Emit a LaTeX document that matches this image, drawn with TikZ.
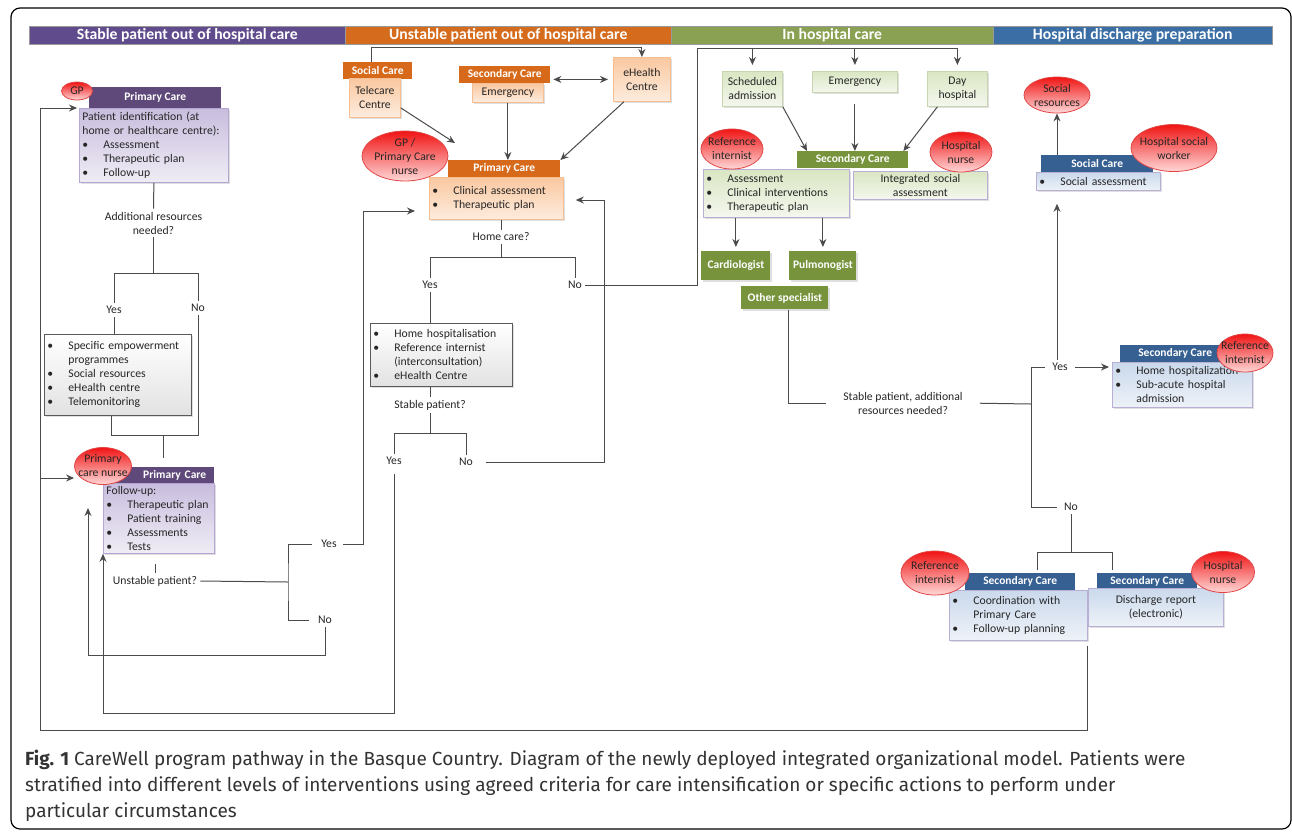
\documentclass[tikz,border=0pt]{standalone}
\usepackage{fontspec}
\setmainfont{Carlito}
\newfontfamily\capfont{Fira Sans}
\usetikzlibrary{arrows.meta,shapes.geometric,shadows}

\definecolor{purpBar}{RGB}{96,76,140}
\definecolor{orgBar}{RGB}{213,107,28}
\definecolor{grnBar}{RGB}{138,160,82}
\definecolor{bluBar}{RGB}{58,110,165}
\definecolor{purpHd}{RGB}{95,73,122}
\definecolor{purpTop}{RGB}{200,189,222}
\definecolor{purpBot}{RGB}{240,237,245}
\definecolor{purpLn}{RGB}{180,165,210}
\definecolor{orgHd}{RGB}{214,106,26}
\definecolor{orgTop}{RGB}{250,200,160}
\definecolor{orgBot}{RGB}{253,236,222}
\definecolor{orgLn}{RGB}{246,190,145}
\definecolor{grnHd}{RGB}{119,147,60}
\definecolor{grnTop}{RGB}{218,230,195}
\definecolor{grnBot}{RGB}{244,247,238}
\definecolor{grnLn}{RGB}{200,214,175}
\definecolor{bluHd}{RGB}{55,96,146}
\definecolor{bluTop}{RGB}{202,217,236}
\definecolor{bluBot}{RGB}{238,242,248}
\definecolor{lavLn}{RGB}{185,175,212}
\definecolor{greyBot}{RGB}{226,226,226}
\definecolor{greyLn}{RGB}{90,90,90}
\definecolor{linec}{RGB}{75,75,75}
\definecolor{txt}{RGB}{38,38,38}
\definecolor{ellTop}{RGB}{240,20,20}
\definecolor{ellBot}{RGB}{255,215,215}
\definecolor{ellLn}{RGB}{225,70,70}

\newcommand\fs{\fontsize{11.7}{14}\selectfont}
\newcommand\fsb{\bfseries\fontsize{11.5}{14}\selectfont}
\newcommand\blt[1]{\makebox[21pt][l]{\textbullet}#1}
\newcommand\bltc[1]{\hspace*{21pt}#1}

\tikzset{
	conn/.style={draw=linec, line width=1pt},
	arr/.style={conn, -{Stealth[length=8pt, width=7pt]}},
	dblarr/.style={conn, {Stealth[length=8pt, width=7pt]}-{Stealth[length=8pt, width=7pt]}},
	lbl/.style={font=\fs, text=txt, inner sep=3pt, align=center},
	phasebar/.style={anchor=north west, minimum height=18pt, inner sep=0pt, text=white, draw=black!40, line width=0.5pt, font=\bfseries\fontsize{15.7}{16}\selectfont},
	headbox/.style={anchor=north west, minimum height=17pt, inner sep=0pt, text=white, font=\fsb, align=center},
	purplehead/.style={headbox, fill=purpHd},
	orangehead/.style={headbox, fill=orgHd},
	greenhead/.style={headbox, fill=grnHd},
	bluehead/.style={headbox, fill=bluHd},
	panel/.style={anchor=north west, inner xsep=3pt, inner ysep=1pt, font=\fs, text=txt, align=left, line width=0.8pt, drop shadow={opacity=0.25, shadow xshift=1.5pt, shadow yshift=-1.5pt}},
	purplebox/.style={panel, draw=purpLn, top color=purpTop, bottom color=purpBot},
	orangebox/.style={panel, draw=orgLn, top color=orgTop, bottom color=orgBot},
	greenbox/.style={panel, draw=lavLn, top color=grnTop, bottom color=grnBot},
	greenplain/.style={panel, draw=grnLn, top color=grnTop, bottom color=grnBot, align=center},
	greenspec/.style={panel, fill=grnHd, text=white, font=\fsb, align=center, inner sep=0pt},
	bluebox/.style={panel, draw=lavLn, top color=bluTop, bottom color=bluBot},
	greybox/.style={panel, draw=greyLn, top color=white, bottom color=greyBot},
	rednurse/.style={ellipse, inner sep=-12pt, draw=ellLn, line width=0.8pt, top color=ellTop, bottom color=ellBot, font=\fs, text=txt, align=center},
	captext/.style={anchor=base west, inner sep=0pt, text=black!80, font=\capfont\fontsize{19}{22}\selectfont}
}

\begin{document}
\begin{tikzpicture}[x=1pt, y=-1pt]
			\useasboundingbox (0,0) rectangle (1292,831);
			%%%%% START %%%%%
			
			\draw[line width=1.2pt, rounded corners=9pt] (11,8) rectangle (1291,829);
			
			% phase bars
			\node[phasebar, fill=purpBar, minimum width=316pt] (barA) at (29,26) {Stable patient out of hospital care};
			\node[phasebar, fill=orgBar, minimum width=326pt] (barB) at (345,26) {Unstable patient out of hospital care};
			\node[phasebar, fill=grnBar, minimum width=322pt] (barC) at (671,26) {In hospital care};
			\node[phasebar, fill=bluBar, minimum width=279pt] (barD) at (993,26) {Hospital discharge preparation};
			
			% stable patient
			\node[purplehead, minimum width=132pt, minimum height=21pt] (pcHdA) at (89,87) {Primary Care};
			\node[purplebox, text width=143pt, minimum height=74pt] (pcBodyA) at (79,108) {Patient identification (at\\home or healthcare centre):\\\blt{Assessment}\\\blt{Therapeutic plan}\\\blt{Follow-up}};
			\node[rednurse, minimum width=31pt, minimum height=18pt] (gpA) at (77,91) {GP};
			
			\node[lbl] (qA) at (153.5,223) {Additional resources\\needed?};
			\node[lbl] (yesA) at (114,310) {Yes};
			\node[lbl] (noA) at (198,308) {No};
			\node[greybox, text width=141pt, minimum height=81pt] (empA) at (44,334) {\blt{Specific empowerment}\\\bltc{programmes}\\\blt{Social resources}\\\blt{eHealth centre}\\\blt{Telemonitoring}};
			
			\node[purplehead, minimum width=109pt, minimum height=16pt, text width=93pt, align=right, inner xsep=8pt] (pcHdB) at (105,467) {Primary Care};
			\node[purplebox, text width=105pt, minimum height=70pt] (pcBodyB) at (103,483) {Follow-up:\\\blt{Therapeutic plan}\\\blt{Patient training}\\\blt{Assessments}\\\blt{Tests}};
			\node[rednurse, minimum width=57pt, minimum height=37pt] (nurseA) at (103,466) {Primary\\care nurse};
			
			\node[lbl] (qUnst) at (155,581) {Unstable patient?};
			\node[lbl] (yesUn) at (329,544) {Yes};
			\node[lbl] (noUn) at (325,620) {No};
			
			\coordinate (splitA) at (0,273);
			\coordinate (mergeA) at (163,435);
			\draw[conn] (pcBodyA.south) -- (qA.north);
			\draw[conn] (qA.south) -- (qA.south |- splitA);
			\draw[conn] (yesA.north) |- (noA.north |- splitA) -- (noA.north);
			\draw[conn] (yesA.south) -- (yesA.south |- empA.north);
			\draw[conn] ([xshift=-6pt]empA.south) |- (noA.south |- mergeA) -- (noA.south);
			\draw[conn, shorten >=9pt] (mergeA) -- (mergeA |- pcHdB.north);
			
			\coordinate (splitU) at (288,582);
			\draw[conn, shorten >=10pt] (qUnst.north) -- (qUnst.north |- pcBodyB.south);
			\draw[conn] (qUnst.east) -- (splitU);
			\draw[conn, shorten <=6pt, shorten >=6pt] (yesUn.west) -| (splitU) |- (noUn.west);
			
			% unstable patient
			\node[orangehead, minimum width=69pt] (socHdU) at (343,62) {Social Care};
			\node[orangebox, minimum width=51pt, minimum height=39pt, align=center] (tele) at (349,78) {Telecare\\Centre};
			\node[orangehead, minimum width=91pt] (secHdU) at (459,66) {Secondary Care};
			\node[orangebox, minimum width=71pt, minimum height=19pt, align=center] (emergU) at (472,83) {Emergency};
			\node[orangebox, minimum width=57pt, minimum height=44pt, align=center] (ehealth) at (613,57) {eHealth\\Centre};
			\node[orangehead, minimum width=112pt] (pcHdU) at (448,160) {Primary Care};
			\node[orangebox, text width=128pt, minimum height=42pt] (pcBodyU) at (429,177) {\blt{Clinical assessment}\\\blt{Therapeutic plan}};
			\node[rednurse, minimum width=86pt, minimum height=50pt] (gpU) at (405,156) {GP /\\Primary Care\\nurse};
			
			\node[lbl] (qHome) at (501,237) {Home care?};
			\node[lbl] (yesU) at (430,285) {Yes};
			\node[lbl] (noU) at (575,285) {No};
			\node[greybox, text width=136pt, minimum height=63pt] (homeBox) at (370,323) {\blt{Home hospitalisation}\\\blt{Reference internist}\\\bltc{(interconsultation)}\\\blt{eHealth Centre}};
			\node[lbl] (qStab) at (430,405) {Stable patient?};
			\node[lbl] (yesS) at (394,461) {Yes};
			\node[lbl] (noS) at (466,462) {No};
			
			\coordinate (cTopU) at (0,47);
			\draw[arr] ([xshift=-6pt]socHdU.north) |- (cTopU -| ehealth.north) -- (ehealth.north);
			\draw[arr] ([yshift=-10pt]tele.east) -- ([xshift=7pt, yshift=17pt]pcHdU.north west);
			\draw[arr] (emergU.south) -- (emergU.south |- pcHdU.north);
			\draw[arr] ([xshift=-18pt]ehealth.south) -- (pcHdU.north east);
			\draw[dblarr, shorten <=3pt, shorten >=5pt] (secHdU.east |- ehealth.west) -- (ehealth.west);
			
			\coordinate (splitH) at (0,257);
			\coordinate (splitS) at (0,433);
			\draw[conn] (qHome.north |- pcBodyU.south) -- (qHome.north);
			\draw[conn] (qHome.south) -- (qHome.south |- splitH);
			\draw[conn] (yesU.north) |- (noU.north |- splitH) -- (noU.north);
			\draw[conn] (yesU.south) -- (yesU.south |- homeBox.north);
			\draw[conn] (qStab.north |- homeBox.south) -- (qStab.north);
			\draw[conn] (qStab.south) -- (qStab.south |- splitS);
			\draw[conn] (yesS.north) |- (noS.north |- splitS) -- (noS.north);
			
			% in hospital
			\node[greenplain, minimum width=60pt, minimum height=35pt] (sched) at (722,71) {Scheduled\\admission};
			\node[greenplain, minimum width=85pt, minimum height=21pt] (emergH) at (812,71) {Emergency};
			\node[greenplain, minimum width=60pt, minimum height=35pt] (dayH) at (927,71) {Day\\hospital};
			\node[greenhead, minimum width=111pt] (secHdH) at (797,151) {Secondary Care};
			\node[greenbox, text width=140pt, minimum height=48pt] (hBody) at (703,169) {\blt{Assessment}\\\blt{Clinical interventions}\\\blt{Therapeutic plan}};
			\node[greenbox, text width=128pt, minimum height=28pt, align=center] (socAssH) at (853,171) {Integrated social\\assessment};
			\node[rednurse, minimum width=62pt, minimum height=40pt] (refH) at (732,149) {Reference\\internist};
			\node[rednurse, minimum width=62pt, minimum height=40pt] (nurseH) at (961,152) {Hospital\\nurse};
			\node[greenspec, minimum width=69pt, minimum height=29pt] (cardio) at (701,251) {Cardiologist};
			\node[greenspec, minimum width=67pt, minimum height=29pt] (pulmo) at (789,251) {Pulmonogist};
			\node[greenspec, minimum width=87pt, minimum height=23pt] (otherSp) at (741,286) {Other specialist};
			
			\coordinate (cTopH) at (697,48);
			\draw[arr, shorten >=6pt] (noU.east) -| (cTopH) -| (dayH.north);
			\draw[arr, shorten >=6pt] (sched.north |- cTopH) -- (sched.north);
			\draw[arr, shorten >=6pt] (emergH.north |- cTopH) -- (emergH.north);
			\draw[arr] (sched.south east) -- ([xshift=10pt]secHdH.north west);
			\draw[arr, shorten <=11pt] (emergH.south) -- (emergH.south |- secHdH.north);
			\draw[arr] ([xshift=-20pt]dayH.south) -- ([xshift=-5pt]secHdH.north east);
			\draw[arr, shorten >=4pt] (cardio.north |- hBody.south) -- (cardio.north);
			\draw[arr, shorten >=4pt] (pulmo.north |- hBody.south) -- (pulmo.north);
			
			\node[lbl] (qStab2) at (903,403) {Stable patient, additional\\resources needed?};
			\node[lbl] (yesD) at (1060,367) {Yes};
			\node[lbl] (noD) at (1071,507) {No};
			
			% discharge preparation
			\node[rednurse, minimum width=66pt, minimum height=36pt] (socRes) at (1057,95) {Social\\resources};
			\node[bluehead, minimum width=112pt] (socHdD) at (1041,155) {Social Care};
			\node[bluebox, text width=118pt, minimum height=18pt] (socBody) at (1036,172) {\blt{Social assessment}};
			\node[rednurse, minimum width=86pt, minimum height=47pt] (hsw) at (1174,148) {Hospital social\\worker};
			
			\node[bluehead, minimum width=110pt] (secHdY) at (1120,345) {Secondary Care};
			\node[bluebox, text width=134pt, minimum height=45pt] (yBody) at (1112,362) {\blt{Home hospitalization}\\\blt{Sub-acute hospital}\\\bltc{admission}};
			\node[rednurse, minimum width=56pt, minimum height=38pt] (refY) at (1245,353) {Reference\\internist};
			
			\node[bluehead, minimum width=110pt] (secHdN1) at (965,573) {Secondary Care};
			\node[bluebox, text width=132pt, minimum height=50pt] (disBodyA) at (949,590) {\blt{Coordination with}\\\bltc{Primary Care}\\\blt{Follow-up planning}};
			\node[bluehead, minimum width=100pt] (secHdN2) at (1097,573) {Secondary Care};
			\node[bluebox, text width=129pt, minimum height=38pt, align=center] (disBodyB) at (1088,588) {Discharge report\\(electronic)};
			\node[rednurse, minimum width=68pt, minimum height=44pt] (refN) at (935,573) {Reference\\internist};
			\node[rednurse, minimum width=63pt, minimum height=41pt] (nurseN) at (1223,572) {Hospital\\nurse};
			
			\coordinate (splitD) at (1031,404);
			\coordinate (splitN) at (0,552);
			\draw[conn, shorten >=14pt] ([xshift=4pt]otherSp.south) |- (qStab2.west);
			\draw[conn, shorten <=14pt] (qStab2.east) -- (splitD);
			\draw[conn, shorten <=4pt, shorten >=4pt] (yesD.west) -| (splitD) |- (noD.west);
			\draw[arr, shorten <=4pt, shorten >=3pt] (yesD.east) -- (yesD.east -| yBody.west);
			\draw[arr, shorten >=13pt] (yesD.north -| socRes) -- (socRes |- socBody.south);
			\draw[arr] (socRes |- socHdD.north) -- (socRes.south);
			\draw[conn] (noD.south) -- (noD.south |- splitN);
			\draw[conn, shorten <=3pt, shorten >=3pt] ([xshift=17pt]secHdN1.north) |- ([xshift=-35pt]secHdN2.north |- splitN) -- ([xshift=-35pt]secHdN2.north);
			
			% loops back
			\coordinate (cBL) at (40,730);
			\coordinate (cNurse) at (40,478);
			\coordinate (cYesUp) at (363,211);
			\coordinate (cNoLoop) at (88,655);
			\coordinate (cNoTip) at (88,508);
			\coordinate (cYesS) at (0,713);
			\coordinate (cNoS) at (604,200);
			\draw[arr] ([yshift=-5pt]disBodyA.south east) |- (cBL) |- ([xshift=-2pt]pcBodyA.north west);
			\draw[arr] (cNurse) -- (cNurse -| nurseA.west);
			\draw[arr, shorten <=3pt, shorten >=14pt] (yesUn.east) -| (cYesUp) -- (cYesUp -| pcBodyU.west);
			\draw[arr] (noUn.south) |- (cNoLoop) -- (cNoTip);
			\draw[arr, shorten <=6pt] (yesS.south) |- (cYesS -| pcBodyB.south west) -- (pcBodyB.south west);
			\draw[arr, shorten <=10pt, shorten >=12pt] (noS.east) -| (cNoS) -- (cNoS -| pcBodyU.east);
			
			% caption
			\node[captext] (capA) at (25,765) {\textbf{Fig. 1} CareWell program pathway in the Basque Country. Diagram of the newly deployed integrated organizational model. Patients were};
			\node[captext] (capB) at (25,791) {stratified into different levels of interventions using agreed criteria for care intensification or specific actions to perform under};
			\node[captext] (capC) at (25,817) {particular circumstances};
			
			%%%%% END %%%%%
\end{tikzpicture}
\end{document}
